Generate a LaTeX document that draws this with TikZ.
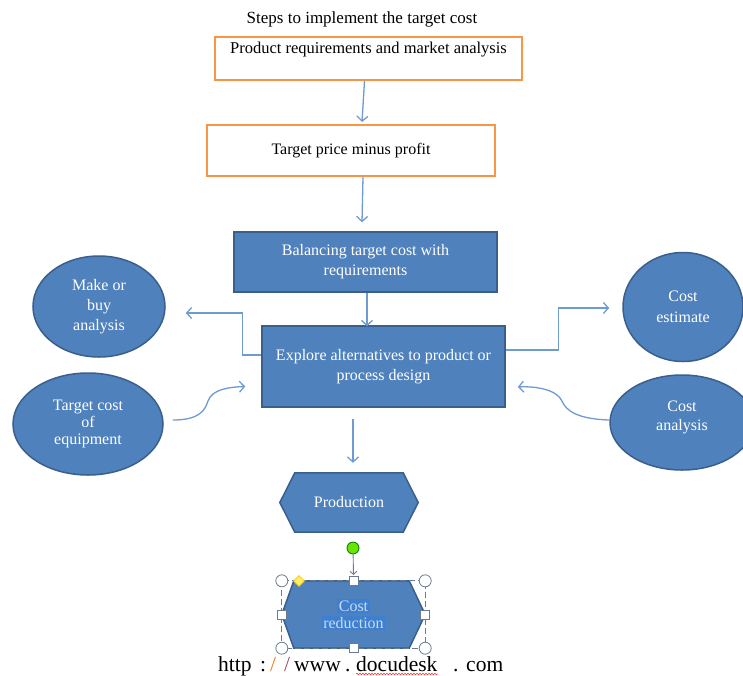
\documentclass[tikz,border=0pt]{standalone}
\usepackage{fontspec}
\setmainfont{Liberation Serif}
\usetikzlibrary{arrows.meta,calc,shapes.geometric,decorations.pathmorphing}
\definecolor{obox}{HTML}{F79646}
\definecolor{bfill}{HTML}{4F81BD}
\definecolor{bline}{HTML}{3A5F8C}
\definecolor{conn}{HTML}{6F9BD3}
\definecolor{hlc}{HTML}{3F7FCF}
\definecolor{crtext}{HTML}{C8DBF2}
\definecolor{handle}{HTML}{6A7C93}
\pgfdeclarelayer{background}
\pgfsetlayers{background,main}
\newcommand\myhl[1]{{\setlength{\fboxsep}{1.5pt}\colorbox{hlc}{#1}}}
\begin{document}
\begin{tikzpicture}[x=1pt,y=-1pt,
  txt/.style={font=\fontsize{16}{20}\selectfont},
  obx/.style={draw=obox,line width=2pt,fill=white,txt,align=center,inner sep=0pt},
  bbx/.style={draw=bline,line width=1.5pt,fill=bfill,text=white,txt,align=center,inner sep=0pt},
  ell/.style={ellipse,draw=bline,line width=1.5pt,fill=bfill,text=white,txt,align=center,inner sep=0pt},
  hexn/.style={rectangle,inner sep=0pt,txt,align=center},
  hexd/.style={draw=bline,line width=1.5pt,fill=bfill},
  arr/.style={draw=conn,line width=1.3pt,-{Straight Barb[length=5pt,width=11pt]}},
  hcirc/.style={circle,draw=handle,fill=white,line width=0.8pt,minimum size=12pt,inner sep=0pt},
  hsq/.style={rectangle,draw=handle,fill=white,line width=0.8pt,minimum size=9pt,inner sep=0pt},
  url/.style={anchor=base west,inner sep=0pt,font=\fontsize{21.5}{22}\selectfont}]
\useasboundingbox (0,0) rectangle (743,675);

% title
\node[font=\fontsize{17}{20}\selectfont] (title) at (362,19) {Steps to implement the target cost};

% orange boxes
\node[obx,minimum width=307pt,minimum height=43pt,font=\fontsize{16.5}{20}\selectfont] (b1) at (368.5,58.5) {Product requirements and market analysis\\[1pt]\mbox{}};
\node[obx,minimum width=288pt,minimum height=51pt] (b2) at (351,150.5) {Target price minus profit};

% blue boxes
\node[bbx,minimum width=263pt,minimum height=60pt] (b3) at (365.5,262) {Balancing target cost with\\requirements};
\node[bbx,minimum width=243pt,minimum height=81pt] (b4) at (383.5,366.5) {Explore alternatives to product or\\process design};

% ellipses
\node[ell,minimum width=132pt,minimum height=101pt] (make) at (99,306.5) {Make or\\buy\\analysis};
\node[ell,minimum width=150pt,minimum height=102pt,font=\fontsize{16}{17}\selectfont] (equip) at (88,424) {Target cost\\of\\equipment};
\node[ell,minimum width=120pt,minimum height=109pt,font=\fontsize{16}{21}\selectfont] (est) at (683,307) {Cost\\estimate};
\node[ell,minimum width=144pt,minimum height=95pt,font=\fontsize{16}{19}\selectfont] (ana) at (682,422.5) {Cost\\analysis\\[-6pt]\mbox{}};

% hexagons
\node[hexn,text=white,minimum width=138pt,minimum height=59pt] (prod) at (349,502.5) {Production};
\node[hexn,text=crtext,minimum width=143pt,minimum height=67pt] (cred) at (353.5,614.5) {\myhl{Cost}\\[-3pt]\myhl{reduction}};
\begin{pgfonlayer}{background}
\draw[hexd] ([xshift=15pt]prod.north west) -- ([xshift=-15pt]prod.north east) -- (prod.east)
  -- ([xshift=-15pt]prod.south east) -- ([xshift=15pt]prod.south west) -- (prod.west) -- cycle;
\draw[hexd] ([xshift=12pt]cred.north west) -- ([xshift=-16pt]cred.north east) -- (cred.east)
  -- ([xshift=-16pt]cred.south east) -- ([xshift=12pt]cred.south west) -- (cred.west) -- cycle;
\end{pgfonlayer}

% straight connectors
\draw[arr] ([xshift=-4pt]b1.south) -- ([xshift=11pt,yshift=2pt]b2.north);
\draw[arr] ([xshift=12pt]b2.south) -- ([xshift=-3.5pt,yshift=9pt]b3.north);
\draw[arr] ([xshift=1.5pt]b3.south) -- ([xshift=-16.5pt,yshift=-1pt]b4.north);
\draw[arr] ([xshift=-30.5pt,yshift=-11pt]b4.south) -- ([xshift=4pt,yshift=10pt]prod.north);

% elbow connectors
\draw[arr] ([yshift=11.5pt]b4.west) -- ++(-19pt,0) |- ([xshift=20pt,yshift=-6.5pt]make.east);
\draw[arr] ([yshift=16.5pt]b4.east) -- ++(53pt,0) |- ([xshift=-13pt,yshift=-1pt]est.west);

% curved connectors
\draw[arr] ([xshift=9pt,yshift=4pt]equip.east) .. controls (200,420) and (205,410) .. (208,401)
  .. controls (212,389) and (230,387) .. ([xshift=-16pt,yshift=-20pt]b4.west);
\draw[arr] ([yshift=2.5pt]ana.west) .. controls (578,419) and (566,411) .. (562,401)
  .. controls (557,390) and (537,386) .. ([xshift=12pt,yshift=-20.5pt]b4.east);

% selection handles of "Cost reduction"
\draw[handle,line width=0.8pt,dash pattern=on 6pt off 3pt] (cred.north west) rectangle (cred.south east);
\node[circle,draw=black!35!green!70!black,fill=green!55!yellow!90!black,minimum size=12pt,inner sep=0pt,line width=0.8pt] (rot) at (353,548) {};
\node[hsq] (hn) at (cred.north) {};
\draw[handle,line width=0.9pt,-{Straight Barb[length=3pt,width=7pt]}] (rot) -- ([yshift=1pt]hn.north);
\node[hsq] (hs) at (cred.south) {};
\node[hsq] (hw) at (cred.west) {};
\node[hsq] (he) at (cred.east) {};
\node[hcirc] (hnw) at (cred.north west) {};
\node[hcirc] (hne) at (cred.north east) {};
\node[hcirc] (hsw) at (cred.south west) {};
\node[hcirc] (hse) at (cred.south east) {};
\node[diamond,draw=yellow!60!orange,fill=yellow!85!orange!60,minimum size=11pt,inner sep=0pt,line width=0.6pt] (adj) at (299,581) {};

% url
\node[url] (u1) at (218,671) {http};
\node[url] (u2) at (260,671) {:};
\node[url,text=orange!70!brown] (u3) at (270,671) {/};
\node[url,text=orange!60!blue] (u4) at (284,671) {/};
\node[url] (u5) at (294,671) {www};
\node[url] (u6) at (345,671) {.};
\node[url] (ud) at (356,671) {docudesk};
\node[url] (u7) at (453,671) {.};
\node[url] (u8) at (466,671) {com};
\draw[red!80,line width=0.6pt,decorate,decoration={snake,amplitude=0.8pt,segment length=3pt}] ([yshift=-3pt]ud.base west) -- ([yshift=-3pt]ud.base east);
\end{tikzpicture}
\end{document}
